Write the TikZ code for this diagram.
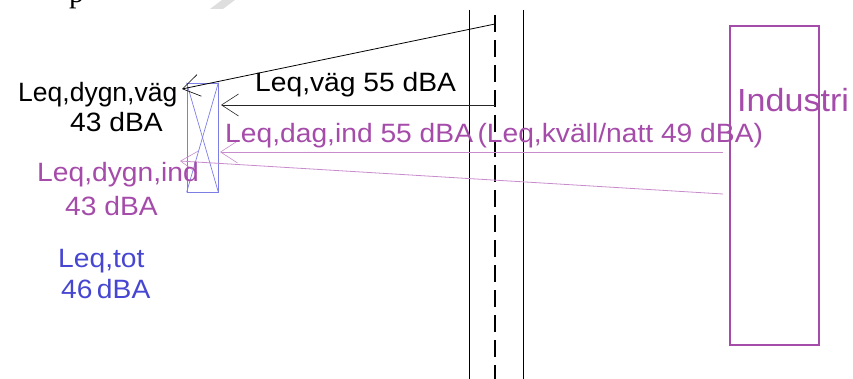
\documentclass[tikz,border=0pt]{standalone}
\usepackage{fontspec}
\setmainfont{Liberation Sans}
\newfontfamily\wsans[FakeStretch=1.065]{Liberation Sans}
\newfontfamily\serifp{Liberation Serif}
\usetikzlibrary{arrows.meta}
\definecolor{magtext}{RGB}{165,75,170}
\definecolor{magline}{RGB}{200,140,205}
\definecolor{bluetext}{RGB}{70,70,210}
\definecolor{blueline}{RGB}{125,125,230}
\definecolor{wmgrey}{RGB}{222,222,222}
\tikzset{
  lbl/.style={inner sep=0pt, anchor=base west, font=\wsans\fontsize{26.5}{30}\selectfont},
  ray/.style={line width=0.8pt, -{Straight Barb[length=17pt,width=22pt,line width=0.6pt]}},
  wall/.style={line width=1pt, black},
}
\begin{document}
\begin{tikzpicture}[x=1pt,y=-1pt]
\useasboundingbox (0,0) rectangle (853,379);
% crop remnants at the top
\fill[wmgrey] (210,9) -- (223,9) -- (235,0) -- (222,0) -- cycle;
\node[inner sep=0pt, anchor=base west, font=\serifp\fontsize{30}{30}\selectfont] (ptop) at (69,3) {p};
% road: two solid lines and a dashed centre line
\draw[wall] (469,10) -- (469,379);
\draw[wall] (523,10) -- (523,379);
\draw[line width=1.3pt, dash pattern=on 17pt off 8pt] (495,15) -- (495,379);
% industry
\node[draw=magtext, line width=2.6pt, minimum width=89pt, minimum height=319pt, inner sep=0pt] (ind) at (774.5,185.5) {};
\node[lbl, text=magtext, font=\wsans\fontsize{32}{36}\selectfont] (indtxt) at (737,112) {Industri};
% receiver
\node[draw=blueline, line width=0.8pt, minimum width=31pt, minimum height=109pt, inner sep=0pt] (rec) at (202.5,137.5) {};
\draw[blueline, line width=0.7pt] (rec.north west) -- (rec.south east);
\draw[blueline, line width=0.7pt] (rec.north east) -- (rec.south west);
% sources and targets
\coordinate (roadA) at (495,24);
\coordinate (roadB) at (495,105);
\coordinate (tipA) at (182,89);
\coordinate (tipB) at (221,105);
\coordinate (indA) at (723,152);
\coordinate (indB) at (723,194);
\coordinate (tipC) at (220,152);
\coordinate (tipD) at (180,161);
\draw[ray, black] (roadA) -- (tipA);
\draw[ray, black!85] (roadB) -- (tipB);
\draw[ray, magline] (indA) -- (tipC);
\draw[ray, magline] (indB) -- (tipD);
% labels
\node[lbl] (vag) at (255,92) {Leq,väg 55 dBA};
\node[lbl, text=magtext] (dag) at (225,143) {Leq,dag,ind 55 dBA\,(Leq,kväll/natt 49 dBA)};
\node[lbl, font=\fontsize{26.5}{30}\selectfont] (dv1) at (18,102) {Leq,dygn,väg};
\node[lbl] (dv2) at (70,132) {43 dBA};
\node[lbl, text=magtext] (di1) at (37,182) {Leq,dygn,ind};
\node[lbl, text=magtext] (di2) at (65,215) {43 dBA};
\node[lbl, text=bluetext] (t1) at (58,267) {Leq,tot};
\node[lbl, text=bluetext] (t2) at (61,298) {46\,dBA};
\end{tikzpicture}
\end{document}
